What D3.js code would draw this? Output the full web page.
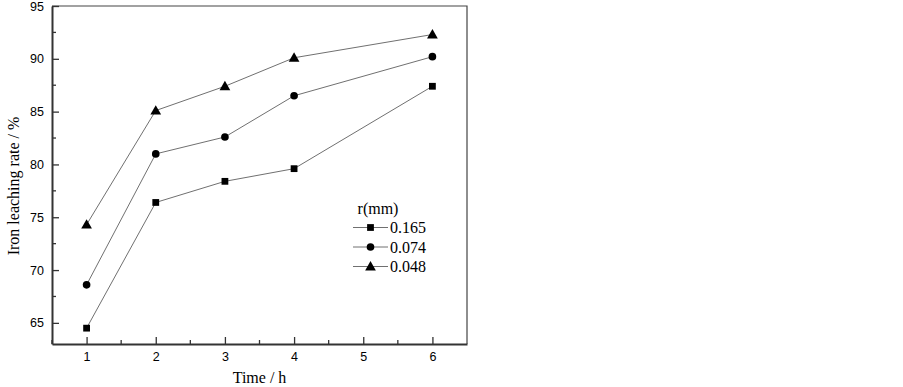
<!DOCTYPE html>
<html>
<head>
<meta charset="utf-8">
<script src="https://cdn.jsdelivr.net/npm/d3@7"></script>
<style>
  html, body { margin: 0; padding: 0; background: #fff; }
  svg { display: block; }
</style>
</head>
<body>
<svg id="chart" width="903" height="387"></svg>
<script>
const times = [1, 2, 3, 4, 6]
const seriesNames = ['0.165', '0.074', '0.048']
const values0165 = [64.5, 76.4, 78.4, 79.6, 87.4]
const values0074 = [68.6, 81.0, 82.6, 86.5, 90.2]
const values0048 = [74.3, 85.1, 87.4, 90.1, 92.3]
const xTicks = [1, 2, 3, 4, 5, 6]
const yTicks = [65, 70, 75, 80, 85, 90, 95]

const series = [
  { name: seriesNames[0], data: values0165, shape: d3.symbolSquare },
  { name: seriesNames[1], data: values0074, shape: d3.symbolCircle },
  { name: seriesNames[2], data: values0048, shape: d3.symbolTriangle },
]

let svg = d3.select('#chart')
let gridLeft = 52, gridRight = 467, gridTop = 6, gridBottom = 344

let scaleX = d3.scaleLinear().domain([0.5, 6.5]).range([gridLeft, gridRight])
let scaleY = d3.scaleLinear().domain([63, 95]).range([gridBottom, gridTop])

let sans = 'Liberation Sans, Arial, sans-serif'
let serif = 'Liberation Serif, Times New Roman, serif'

// frame (top / right lighter)
svg.append('path')
  .attr('d', `M${gridLeft},${gridTop}H${gridRight}V${gridBottom}`)
  .attr('fill', 'none').attr('stroke', '#444').attr('stroke-width', 1.2)

// x axis, ticks inside
let xAxis = d3.axisBottom(scaleX).tickValues(xTicks).tickFormat(d3.format('d'))
  .tickSizeInner(-7).tickSizeOuter(0).tickPadding(8)
let gx = svg.append('g').attr('transform', `translate(0,${gridBottom})`).call(xAxis)
gx.select('.domain').attr('stroke', '#333').attr('stroke-width', 2)
gx.selectAll('.tick line').attr('stroke', '#333').attr('stroke-width', 1.3)
gx.selectAll('.tick text').attr('font-family', sans).attr('font-size', 12.5).attr('fill', '#000')
svg.append('g').selectAll('line')
  .data(xTicks.slice(0, -1).map(d => d + 0.5).concat([0.5]))
  .join('line')
  .attr('x1', d => scaleX(d)).attr('x2', d => scaleX(d))
  .attr('y1', gridBottom).attr('y2', gridBottom - 4)
  .attr('stroke', '#333').attr('stroke-width', 1.3)

// y axis, ticks inside
let yAxis = d3.axisLeft(scaleY).tickValues(yTicks).tickSizeInner(-7).tickSizeOuter(0).tickPadding(8)
let gy = svg.append('g').attr('transform', `translate(${gridLeft},0)`).call(yAxis)
gy.select('.domain').attr('stroke', '#333').attr('stroke-width', 2)
gy.selectAll('.tick line').attr('stroke', '#333').attr('stroke-width', 1.3)
gy.selectAll('.tick text').attr('font-family', sans).attr('font-size', 12.5).attr('fill', '#000')
svg.append('g').selectAll('line')
  .data(yTicks.slice(0, -1).map(d => d + 2.5))
  .join('line')
  .attr('x1', gridLeft).attr('x2', gridLeft + 4)
  .attr('y1', d => scaleY(d)).attr('y2', d => scaleY(d))
  .attr('stroke', '#333').attr('stroke-width', 1.3)

// axis titles
svg.append('text')
  .attr('x', (gridLeft + gridRight) / 2).attr('y', 383)
  .attr('text-anchor', 'middle').attr('font-family', serif).attr('font-size', 16)
  .text('Time / h')
svg.append('text')
  .attr('transform', 'translate(19,186) rotate(-90)')
  .attr('text-anchor', 'middle').attr('font-family', serif).attr('font-size', 16)
  .text('Iron leaching rate / %')

// lines + markers
let line = d3.line().x((d, i) => scaleX(times[i])).y(d => scaleY(d))
series.forEach(s => {
  let g = svg.append('g')
  g.append('path').attr('d', line(s.data))
    .attr('fill', 'none').attr('stroke', '#707070').attr('stroke-width', 1)
  let sym = d3.symbol().type(s.shape).size(s.shape === d3.symbolTriangle ? 50 : 46)
  g.selectAll('path.pt').data(s.data).join('path').attr('class', 'pt')
    .attr('d', sym)
    .attr('transform', (d, i) => `translate(${scaleX(times[i])},${scaleY(d) + (s.shape === d3.symbolTriangle ? 0.8 : 0)})`)
    .attr('fill', '#000')
})

// legend
let lg = svg.append('g').attr('transform', 'translate(353,0)')
lg.append('text').attr('x', 25).attr('y', 214)
  .attr('text-anchor', 'middle').attr('font-family', serif).attr('font-size', 16)
  .text('r(mm)')
series.forEach((s, i) => {
  let y = 227.5 + i * 19.5
  lg.append('line').attr('x1', 0).attr('x2', 35).attr('y1', y).attr('y2', y)
    .attr('stroke', '#707070').attr('stroke-width', 1)
  lg.append('path')
    .attr('d', d3.symbol().type(s.shape).size(s.shape === d3.symbolTriangle ? 50 : 46)())
    .attr('transform', `translate(17.5,${y + (s.shape === d3.symbolTriangle ? 0.8 : 0)})`)
    .attr('fill', '#000')
  lg.append('text').attr('x', 37).attr('y', y + 5.5)
    .attr('font-family', serif).attr('font-size', 16)
    .text(s.name)
})
</script>
</body>
</html>
